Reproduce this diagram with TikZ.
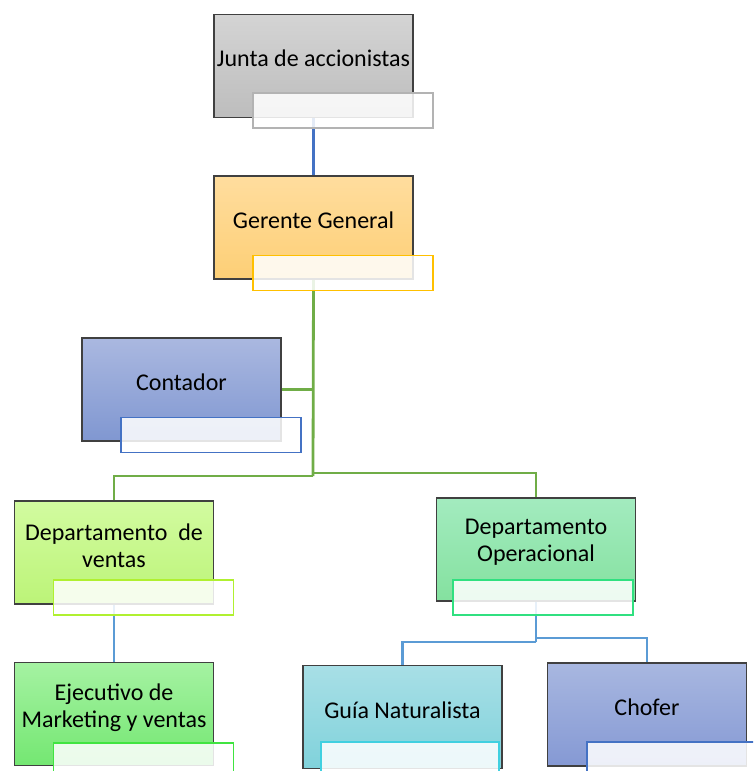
\documentclass[tikz,border=0pt]{standalone}
\usepackage{fontspec}
\setmainfont{Carlito}
\usetikzlibrary{backgrounds}
\definecolor{blue4}{HTML}{4472C4}
\definecolor{green4}{HTML}{70AD47}
\definecolor{sky4}{HTML}{5B9BD5}
\definecolor{juntaA}{RGB}{212,212,212}\definecolor{juntaB}{RGB}{189,189,189}
\definecolor{gerA}{RGB}{255,221,158}\definecolor{gerB}{RGB}{253,207,118}
\definecolor{conA}{RGB}{170,184,224}\definecolor{conB}{RGB}{128,151,209}
\definecolor{venA}{RGB}{210,251,160}\definecolor{venB}{RGB}{188,244,120}
\definecolor{ejeA}{RGB}{165,242,162}\definecolor{ejeB}{RGB}{116,231,114}
\definecolor{opeA}{RGB}{163,235,191}\definecolor{opeB}{RGB}{132,225,159}
\definecolor{guiA}{RGB}{168,223,230}\definecolor{guiB}{RGB}{128,210,219}
\definecolor{choA}{RGB}{168,183,224}\definecolor{choB}{RGB}{133,153,212}
\definecolor{edgeGray}{RGB}{179,179,179}
\definecolor{edgeGold}{RGB}{255,192,0}
\definecolor{edgeLime}{RGB}{176,240,48}
\definecolor{edgeGreen}{RGB}{64,228,64}
\definecolor{edgeMint}{RGB}{48,224,128}
\definecolor{edgeCyan}{RGB}{64,208,224}
\begin{document}
\begin{tikzpicture}[x=1pt,y=-1pt,
  mainbox/.style 2 args={draw=black!75, line width=1.1pt, minimum width=199pt, minimum height=103pt, inner sep=0pt, top color=#1, bottom color=#2},
  subbox/.style={draw=#1, line width=1.4pt, fill=white, fill opacity=0.86, minimum width=180pt, minimum height=35pt, inner sep=0pt},
  lbl/.style={font=\fontsize{24}{27}\selectfont, align=center, inner sep=0pt, text=black},
  lnblue/.style={draw=blue4, line width=2.8pt},
  lngreen/.style={draw=green4, line width=2.8pt},
  lnsky/.style={draw=sky4, line width=2.8pt}]
\useasboundingbox (0,0) rectangle (753,771);
\clip (0,0) rectangle (753,771);
% main boxes
\node[mainbox={juntaA}{juntaB}] (junta) at (313.5,66) {};
\node[mainbox={gerA}{gerB}] (gerente) at (313.5,227.5) {};
\node[mainbox={conA}{conB}] (contador) at (181.5,389.5) {};
\node[mainbox={venA}{venB}] (ventas) at (114,552.5) {};
\node[mainbox={ejeA}{ejeB}] (ejec) at (114,714) {};
\node[mainbox={opeA}{opeB}] (oper) at (536,549.5) {};
\node[mainbox={guiA}{guiB}] (guia) at (402.5,717) {};
\node[mainbox={choA}{choB}] (chofer) at (647,714.5) {};
% connectors
\coordinate (j1) at (313,476);
\coordinate (j2) at (313,473);
\coordinate (k1) at (536,642);
\coordinate (k2) at (536,638);
\begin{pgfonlayer}{background}
\draw[lnblue] (junta.south) -- (gerente.north);
\draw[lngreen] (gerente.south) -- (j1);
\draw[lngreen] (contador.east) -- (contador.east -| j1);
\draw[lngreen] (j1) -| (ventas.north);
\draw[lngreen] (j2) -| (oper.north);
\draw[lnsky] (ventas.south) -- (ejec.north);
\draw[lnsky] (oper.south) -- (k1);
\draw[lnsky] (k1) -| (guia.north);
\draw[lnsky] (k2) -| (chofer.north);
\end{pgfonlayer}
% sub boxes
\node[subbox=edgeGray] (juntaS) at (343,110.5) {};
\node[subbox=edgeGold] (gerenteS) at (343,273) {};
\node[subbox=blue4] (contadorS) at (211,435) {};
\node[subbox=edgeLime] (ventasS) at (143.5,597.5) {};
\node[subbox=edgeGreen] (ejecS) at (143.5,760.5) {};
\node[subbox=edgeMint] (operS) at (543,597.5) {};
\node[subbox=edgeCyan, minimum width=178pt] (guiaS) at (410,759.5) {};
\node[subbox=blue4] (choferS) at (677,759.5) {};
% labels
\node[lbl] (juntaT) at (313.5,58) {Junta de accionistas};
\node[lbl] (gerenteT) at (313.5,220) {Gerente General};
\node[lbl] (contadorT) at (181.5,382) {Contador};
\node[lbl] (ventasT) at (114,545.5) {Departamento\ \ de\\ventas};
\node[lbl] (ejecT) at (114,707.5) {Ejecutivo de\\Marketing y ventas};
\node[lbl] (operT) at (536,542.5) {Departamento\\Operacional};
\node[lbl] (guiaT) at (402.5,710) {Guía Naturalista};
\node[lbl] (choferT) at (647,707) {Chofer};
\end{tikzpicture}
\end{document}
